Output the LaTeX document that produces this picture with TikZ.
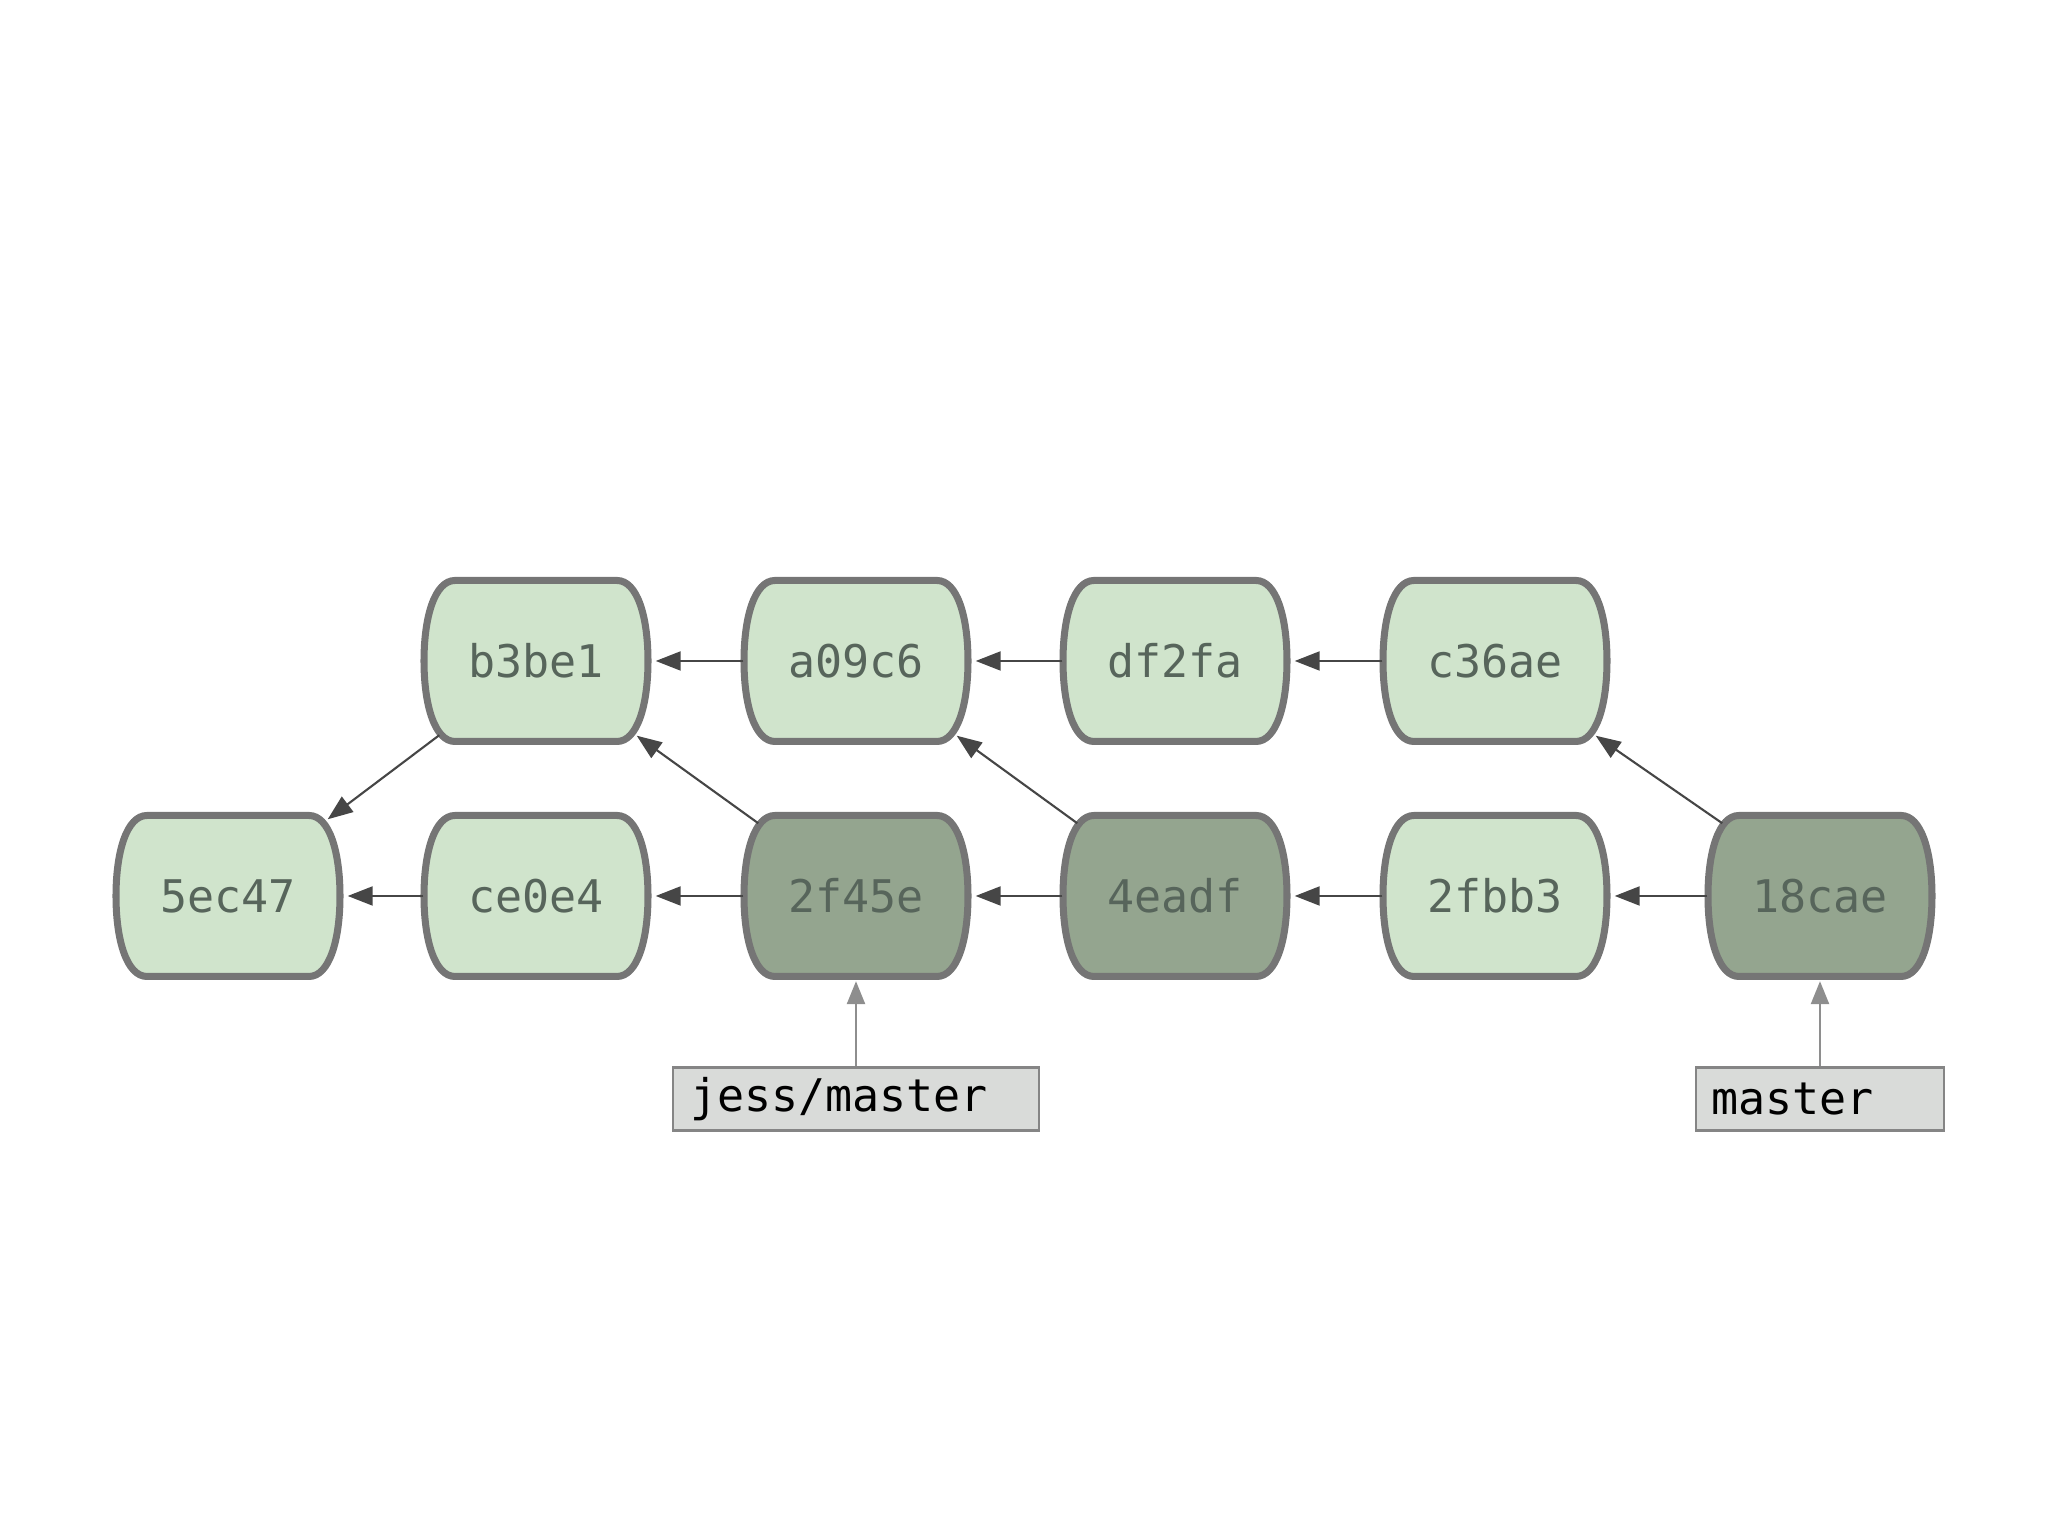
\documentclass[tikz,border=0pt]{standalone}
\usepackage{fontspec}
\setmonofont{DejaVu Sans Mono}
\usetikzlibrary{arrows.meta,backgrounds}

\definecolor{commitfill}{HTML}{D0E4CC}
\definecolor{headfill}{HTML}{94A58F}
\definecolor{commitline}{HTML}{757575}
\definecolor{committext}{HTML}{57655B}
\definecolor{parentline}{HTML}{464646}
\definecolor{refline}{HTML}{8E8E8E}
\definecolor{reffill}{HTML}{D9DBD9}
\definecolor{refborder}{HTML}{858585}

\tikzset{
  commit/.style={minimum width=2.24cm, minimum height=1.61cm, inner sep=0pt,
    text=committext, font=\ttfamily\fontsize{12.8}{15}\selectfont},
  parent/.style={draw=parentline, line width=0.6pt,
    -{Triangle[length=0.25cm,width=0.19cm]}},
  branch/.style={draw=refborder, fill=reffill, line width=0.6pt,
    minimum height=0.63cm, inner ysep=0pt, align=left, text=black,
    font=\ttfamily\fontsize{12.8}{15}\selectfont},
  pointer/.style={draw=refline, line width=0.7pt,
    -{Triangle[length=0.23cm,width=0.18cm]}}
}

\begin{document}
\begin{tikzpicture}
  \useasboundingbox (0,0) rectangle (20.48,15.36);

  % commits
  \node[commit] (b3be1) at (5.36,8.75) {b3be1};
  \node[commit] (a09c6) at (8.56,8.75) {a09c6};
  \node[commit] (df2fa) at (11.75,8.75) {df2fa};
  \node[commit] (c36ae) at (14.95,8.75) {c36ae};
  \node[commit] (5ec47) at (2.28,6.40) {5ec47};
  \node[commit] (ce0e4) at (5.36,6.40) {ce0e4};
  \node[commit] (2f45e) at (8.56,6.40) {2f45e};
  \node[commit] (4eadf) at (11.75,6.40) {4eadf};
  \node[commit] (2fbb3) at (14.95,6.40) {2fbb3};
  \node[commit] (18cae) at (18.20,6.40) {18cae};

  % branches
  \node[branch, text width=3.32cm, inner xsep=0.17cm] (jess) at (8.56,4.37) {jess/master};
  \node[branch, text width=2.18cm, inner xsep=0.15cm] (master) at (18.20,4.37) {master};

  \begin{scope}[on background layer]
    \foreach \c/\f in {b3be1/commitfill, a09c6/commitfill, df2fa/commitfill,
        c36ae/commitfill, 5ec47/commitfill, ce0e4/commitfill, 2f45e/headfill,
        4eadf/headfill, 2fbb3/commitfill, 18cae/headfill}
      \draw[commitline, line width=2pt, fill=\f, shift={(\c.center)}]
        (-0.81,0.805) -- (0.81,0.805)
        .. controls (1.01,0.805) and (1.12,0.45) .. (1.12,0)
        .. controls (1.12,-0.45) and (1.01,-0.805) .. (0.81,-0.805)
        -- (-0.81,-0.805)
        .. controls (-1.01,-0.805) and (-1.12,-0.45) .. (-1.12,0)
        .. controls (-1.12,0.45) and (-1.01,0.805) .. cycle;
  \end{scope}

  % parents, same row
  \foreach \a/\b in {ce0e4/5ec47, 2f45e/ce0e4, 4eadf/2f45e, 2fbb3/4eadf,
      18cae/2fbb3, a09c6/b3be1, df2fa/a09c6, c36ae/df2fa}
    \draw[parent] (\a.west) -- ([xshift=0.07cm]\b.east);

  % parents, other row
  \draw[parent] ([shift={(0.16,0.07)}]b3be1.south west) -- ([shift={(-0.13,-0.045)}]5ec47.north east);
  \foreach \a/\b in {2f45e/b3be1, 4eadf/a09c6, 18cae/c36ae}
    \draw[parent] ([shift={(0.15,-0.085)}]\a.north west) -- ([shift={(-0.12,0.065)}]\b.south east);

  % branch pointers
  \draw[pointer] (jess.north) -- ([yshift=-0.04cm]2f45e.south);
  \draw[pointer] (master.north) -- ([yshift=-0.04cm]18cae.south);
\end{tikzpicture}
\end{document}
